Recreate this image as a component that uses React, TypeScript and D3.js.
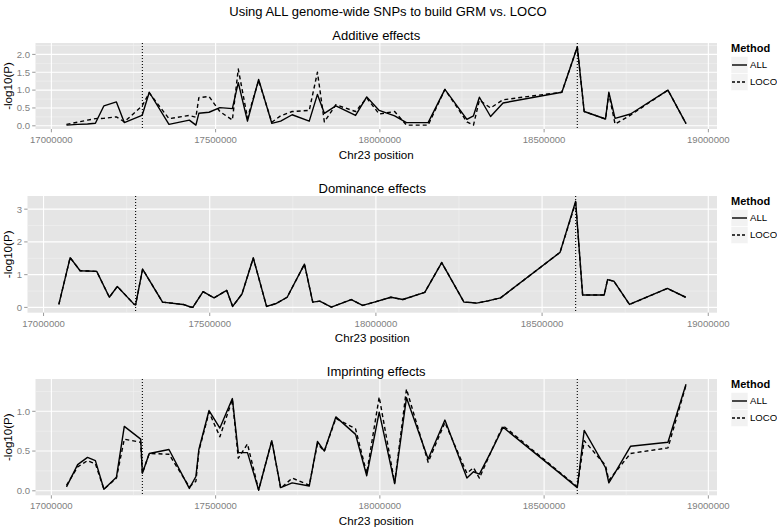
import React from "react";
import * as d3 from "d3";

const positions = [
  17046000, 17080000, 17110000, 17134000, 17160000, 17198000, 17222000, 17272000,
  17277000, 17298000, 17358000, 17420000, 17440000, 17449000, 17480000, 17513000,
  17551000, 17569000, 17597000, 17631000, 17671000, 17698000, 17733000, 17785000,
  17810000, 17831000, 17866000, 17926000, 17960000, 17998000, 18045000, 18081000,
  18147000, 18198000, 18265000, 18285000, 18303000, 18337000, 18375000, 18554000,
  18601000, 18622000, 18687000, 18697000, 18716000, 18763000, 18877000, 18932000,
];

const additiveAll = [
  0.02, 0.04, 0.05, 0.07, 0.56, 0.67, 0.09, 0.28,
  0.31, 0.94, 0.04, 0.16, 0.02, 0.35, 0.38, 0.51,
  0.48, 1.21, 0.13, 1.3, 0.07, 0.13, 0.31, 0.13,
  0.88, 0.35, 0.56, 0.29, 0.81, 0.43, 0.28, 0.09,
  0.09, 1.02, 0.18, 0.28, 0.8, 0.26, 0.64, 0.94,
  2.21, 0.4, 0.19, 0.94, 0.21, 0.33, 1.0, 0.06,
];
const additiveLoco = [
  0.04, 0.1, 0.16, 0.2, 0.21, 0.25, 0.11, 0.52,
  0.57, 0.92, 0.2, 0.29, 0.24, 0.79, 0.82, 0.4,
  0.16, 1.59, 0.22, 1.27, 0.1, 0.28, 0.4, 0.43,
  1.5, 0.11, 0.59, 0.4, 0.78, 0.33, 0.4, 0.02,
  0.02, 1.02, 0.11, 0.02, 0.72, 0.5, 0.73, 0.94,
  2.21, 0.4, 0.19, 0.9, 0.05, 0.3, 1.0, 0.06,
];
const dominanceAll = [
  0.09, 1.52, 1.12, 1.11, 1.1, 0.31, 0.64, 0.1,
  0.08, 1.17, 0.16, 0.09, 0.02, 0.0, 0.48, 0.29,
  0.52, 0.03, 0.41, 1.51, 0.03, 0.11, 0.31, 1.32,
  0.16, 0.19, 0.01, 0.24, 0.06, 0.17, 0.31, 0.24,
  0.46, 1.37, 0.16, 0.15, 0.13, 0.2, 0.29, 1.68,
  3.24, 0.38, 0.38, 0.85, 0.8, 0.09, 0.58, 0.31,
];
const dominanceLoco = [
  0.09, 1.52, 1.12, 1.11, 1.1, 0.31, 0.64, 0.1,
  0.08, 1.17, 0.16, 0.09, 0.02, 0.0, 0.48, 0.29,
  0.52, 0.03, 0.41, 1.51, 0.03, 0.11, 0.31, 1.32,
  0.16, 0.19, 0.01, 0.24, 0.06, 0.17, 0.31, 0.24,
  0.46, 1.37, 0.16, 0.15, 0.13, 0.2, 0.29, 1.68,
  3.2, 0.38, 0.38, 0.85, 0.8, 0.09, 0.58, 0.31,
];
const imprintingAll = [
  0.05, 0.33, 0.42, 0.38, 0.02, 0.17, 0.81, 0.65,
  0.22, 0.47, 0.52, 0.03, 0.18, 0.52, 1.01, 0.79,
  1.16, 0.48, 0.48, 0.01, 0.63, 0.04, 0.1, 0.06,
  0.62, 0.5, 0.93, 0.71, 0.19, 0.99, 0.09, 1.17,
  0.4, 0.89, 0.16, 0.24, 0.21, 0.48, 0.8, 0.2,
  0.04, 0.76, 0.29, 0.1, 0.23, 0.56, 0.61, 1.34,
];
const imprintingLoco = [
  0.07, 0.3, 0.38, 0.34, 0.02, 0.16, 0.65, 0.61,
  0.22, 0.47, 0.46, 0.05, 0.12, 0.5, 0.99, 0.68,
  1.15, 0.41, 0.59, 0.01, 0.63, 0.03, 0.16, 0.07,
  0.59, 0.5, 0.91, 0.78, 0.22, 1.18, 0.1, 1.28,
  0.36, 0.86, 0.22, 0.29, 0.16, 0.48, 0.82, 0.21,
  0.05, 0.63, 0.32, 0.13, 0.23, 0.47, 0.54, 1.33,
];

const xTicks = [17000000, 17500000, 18000000, 18500000, 19000000];
const xMinor = [17250000, 17750000, 18250000, 18750000];
const markerPositions = [17277000, 18601000];
const methods = ["ALL", "LOCO"];

const panels = [
  {
    title: "Additive effects", all: additiveAll, loco: additiveLoco,
    yTicks: [0, 0.5, 1, 1.5, 2], yMinor: [0.25, 0.75, 1.25, 1.75, 2.25], fmt: ".1f",
    top: 43, bottom: 129, left: 35.5,
  },
  {
    title: "Dominance effects", all: dominanceAll, loco: dominanceLoco,
    yTicks: [0, 1, 2, 3], yMinor: [0.5, 1.5, 2.5], fmt: "d",
    top: 196, bottom: 312.7, left: 27.5,
  },
  {
    title: "Imprinting effects", all: imprintingAll, loco: imprintingLoco,
    yTicks: [0, 0.5, 1], yMinor: [0.25, 0.75, 1.25], fmt: ".1f",
    top: 379, bottom: 495.3, left: 35.5,
  },
];

const RIGHT = 717;
const FONT = "Liberation Sans, Arial, Helvetica, sans-serif";
const GREY = "#7f7f7f";

function Panel({ p }: { p: any }) {
  const [xmin, xmax] = d3.extent(positions) as [number, number];
  const xr = xmax - xmin;
  const x = d3.scaleLinear().domain([xmin - 0.05 * xr, xmax + 0.05 * xr]).range([p.left, RIGHT]);
  const vals = [...p.all, ...p.loco];
  const ymin = d3.min(vals) as number;
  const ymax = d3.max(vals) as number;
  const yr = ymax - ymin;
  const y = d3.scaleLinear().domain([ymin - 0.05 * yr, ymax + 0.05 * yr]).range([p.bottom, p.top]);
  const fmt = d3.format(p.fmt);
  const line = d3
    .line<number>()
    .x((_, i) => x(positions[i]))
    .y((d) => y(d));
  const cx = (p.left + RIGHT) / 2;
  const cy = (p.top + p.bottom) / 2;
  const legTop = p.top;
  return (
    <g>
      <text x={cx} y={p.top - 3.5} textAnchor="middle" fontSize={13} fontFamily={FONT} fill="#000">
        {p.title}
      </text>
      <rect x={p.left} y={p.top} width={RIGHT - p.left} height={p.bottom - p.top} fill="#e5e5e5" />
      {p.yMinor.filter((v: number) => y(v) > p.top).map((v: number) => (
        <line key={"ym" + v} x1={p.left} x2={RIGHT} y1={y(v)} y2={y(v)} stroke="#f2f2f2" strokeWidth={0.6} />
      ))}
      {xMinor.map((v) => (
        <line key={"xm" + v} x1={x(v)} x2={x(v)} y1={p.top} y2={p.bottom} stroke="#f2f2f2" strokeWidth={0.6} />
      ))}
      {p.yTicks.map((v: number) => (
        <line key={"yM" + v} x1={p.left} x2={RIGHT} y1={y(v)} y2={y(v)} stroke="#fff" strokeWidth={1.1} />
      ))}
      {xTicks.map((v) => (
        <line key={"xM" + v} x1={x(v)} x2={x(v)} y1={p.top} y2={p.bottom} stroke="#fff" strokeWidth={1.1} />
      ))}
      {markerPositions.map((v) => (
        <line key={"vl" + v} x1={x(v)} x2={x(v)} y1={p.top} y2={p.bottom} stroke="#000" strokeWidth={1.1} strokeDasharray="1,2" />
      ))}
      <path d={line(p.loco) || ""} fill="none" stroke="#000" strokeWidth={1.4} strokeDasharray="4,3" strokeLinejoin="round" />
      <path d={line(p.all) || ""} fill="none" stroke="#000" strokeWidth={1.4} strokeLinejoin="round" />
      {p.yTicks.map((v: number) => (
        <g key={"yt" + v}>
          <line x1={p.left - 3.3} x2={p.left} y1={y(v)} y2={y(v)} stroke={GREY} strokeWidth={0.8} />
          <text x={p.left - 5.5} y={y(v)} dy="0.35em" textAnchor="end" fontSize={9.6} fontFamily={FONT} fill={GREY}>
            {fmt(v)}
          </text>
        </g>
      ))}
      {xTicks.map((v) => (
        <g key={"xt" + v}>
          <line x1={x(v)} x2={x(v)} y1={p.bottom} y2={p.bottom + 3.3} stroke={GREY} strokeWidth={0.8} />
          <text x={x(v)} y={p.bottom + 14} textAnchor="middle" fontSize={9.6} fontFamily={FONT} fill={GREY}>
            {String(v)}
          </text>
        </g>
      ))}
      <text x={cx} y={p.bottom + 29.5} textAnchor="middle" fontSize={11.6} fontFamily={FONT} fill="#000">
        Chr23 position
      </text>
      <text transform={`translate(11.5,${cy}) rotate(-90)`} textAnchor="middle" fontSize={11.6} fontFamily={FONT} fill="#000">
        -log10(P)
      </text>
      <text x={731} y={legTop + 8.8} fontSize={11} fontWeight="bold" fontFamily={FONT} fill="#000">
        Method
      </text>
      {methods.map((m, i) => {
        const ky = legTop + 13.5 + i * 17;
        return (
          <g key={m}>
            <rect x={731} y={ky} width={17} height={17} fill="#f2f2f2" stroke="#fff" strokeWidth={0.6} />
            <line x1={732} x2={747} y1={ky + 8.5} y2={ky + 8.5} stroke="#000" strokeWidth={1.4} strokeDasharray={i === 1 ? "3,2" : undefined} />
            <text x={750} y={ky + 8.5} dy="0.35em" fontSize={9.6} fontFamily={FONT} fill="#000">
              {m}
            </text>
          </g>
        );
      })}
    </g>
  );
}

export default function App() {
  return (
    <svg width={777} height={527} style={{ position: "absolute", left: 0, top: 0, background: "#fff" }}>
      <rect width={777} height={527} fill="#fff" />
      <text x={388} y={16} textAnchor="middle" fontSize={13} fontFamily={FONT} fill="#000">
        Using ALL genome-wide SNPs to build GRM vs. LOCO
      </text>
      {panels.map((p) => (
        <Panel key={p.title} p={p} />
      ))}
    </svg>
  );
}
